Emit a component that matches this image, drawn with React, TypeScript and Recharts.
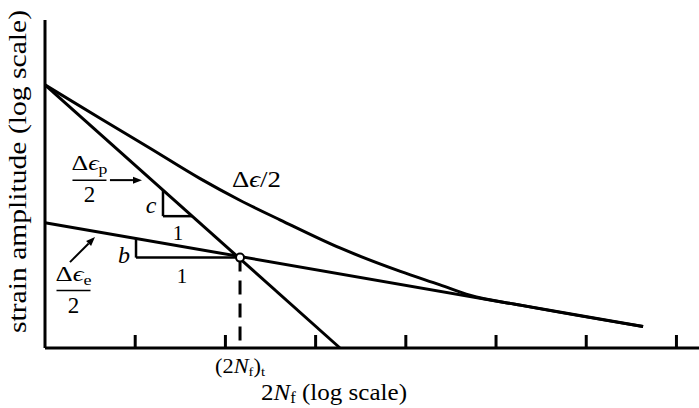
import React from 'react';
import { ComposedChart, Line, XAxis, YAxis, ReferenceLine, ReferenceDot } from 'recharts';

// x = log10(2Nf) (decades), y = log10(strain amplitude) (arbitrary decades)
const xTicks = [1, 2, 3, 4, 5, 6, 7];
const xDomain = [0, 7.25];
const yDomain = [0, 3.64];

const plasticX = [0, 3.27];
const plasticY = [2.92, 0];
const elasticX = [0, 6.63];
const elasticY = [1.391, 0.238];
const totalX = [0, 0.61, 1.16, 1.72, 2.16, 2.61, 3.27, 3.94, 4.38, 4.71, 5.27, 6.63];
const totalY = [2.92, 2.55, 2.22, 1.88, 1.64, 1.42, 1.11, 0.85, 0.7, 0.585, 0.476, 0.238];

const transitionPoint = [2.162, 1.003];
// slope triangles: [xLeft, xRight, yTop, yBottom]
const cTriangle = [1.308, 1.63, 1.749, 1.463];
const bTriangle = [1.009, 2.162, 1.216, 1.003];
// arrows: [x1, y1, x2, y2]
const arrowP = [0.72, 1.863, 1.075, 1.863];
const arrowE = [0.277, 0.953, 0.554, 1.231];
// label anchors [x, y]
const cLabelPos = [1.175, 1.497];
const cOnePos = [1.475, 1.197];
const bLabelPos = [0.876, 0.942];
const bOnePos = [1.519, 0.721];
const totalLabelPos = [2.072, 1.786];
const fracPPos = [0.493, 1.863];
const fracEPos = [0.316, 0.637];

const yLabel = 'strain amplitude (log scale)';
const xLabelTail = ' (log scale)';

const SERIF = '"Liberation Serif", "Times New Roman", "DejaVu Serif", serif';

const toPts = (xs: number[], ys: number[]) => xs.map((x, i) => ({ x, y: ys[i] }));
const plasticData = toPts(plasticX, plasticY);
const elasticData = toPts(elasticX, elasticY);
const totalData = toPts(totalX, totalY);

const TickMark = (p: any) => (
  <line x1={p.x} x2={p.x} y1={p.y} y2={p.y - 13} stroke="#000" strokeWidth={3} />
);

const ArrowShape = (p: any) => {
  const { x1, y1, x2, y2 } = p;
  const ang = Math.atan2(y2 - y1, x2 - x1);
  const L = 9;
  const W = 3.5;
  const bx = x2 - L * Math.cos(ang);
  const by = y2 - L * Math.sin(ang);
  const ox = -Math.sin(ang) * W;
  const oy = Math.cos(ang) * W;
  return (
    <g>
      <line x1={x1} y1={y1} x2={bx} y2={by} stroke="#000" strokeWidth={2} />
      <polygon points={`${x2},${y2} ${bx + ox},${by + oy} ${bx - ox},${by - oy}`} fill="#000" />
    </g>
  );
};

const Frac = ({ cx, cy, sub }: any) => (
  <g fontFamily={SERIF} fill="#000">
    <text x={cx} y={cy - 10} textAnchor="middle" fontSize={22} textLength={36}
      lengthAdjust="spacingAndGlyphs">
      <tspan>Δ</tspan>
      <tspan fontStyle="italic">ϵ</tspan>
      <tspan fontSize={15} dy={4}>{sub}</tspan>
    </text>
    <line x1={cx - 17} x2={cx + 17} y1={cy} y2={cy} stroke="#000" strokeWidth={1.5} />
    <text x={cx} y={cy + 22} textAnchor="middle" fontSize={23}>2</text>
  </g>
);

const SimpleText = (txt: string, size: number, italic: boolean) => (p: any) => (
  <text x={p.cx} y={p.cy} textAnchor="middle" fontSize={size} fontFamily={SERIF}
    fontStyle={italic ? 'italic' : 'normal'} fill="#000">{txt}</text>
);

const TotalLabel = (p: any) => (
  <text x={p.cx} y={p.cy} fontSize={23} fontFamily={SERIF} fill="#000" textLength={49}
    lengthAdjust="spacingAndGlyphs">
    <tspan>Δ</tspan>
    <tspan fontStyle="italic">ϵ</tspan>
    <tspan>/2</tspan>
  </text>
);

const YLabel = (p: any) => {
  const vb = p.viewBox || { x: 0, y: 20, width: 45, height: 328 };
  const cx = 26;
  const cy = vb.y + vb.height / 2 - 12.5;
  return (
    <text x={cx} y={cy} transform={`rotate(-90 ${cx} ${cy})`} textAnchor="middle" fontSize={26}
      fontFamily={SERIF} fill="#000" textLength={323} lengthAdjust="spacingAndGlyphs">
      {yLabel}
    </text>
  );
};

const XLabel = (p: any) => {
  const vb = p.viewBox || { x: 45, y: 348, width: 654, height: 60 };
  return (
    <text x={261} y={vb.y + 52} fontSize={24} fontFamily={SERIF} fill="#000" textLength={146}
      lengthAdjust="spacingAndGlyphs">
      <tspan>2</tspan>
      <tspan fontStyle="italic">N</tspan>
      <tspan fontSize={16} dy={3}>f</tspan>
      <tspan dy={-3}>{xLabelTail}</tspan>
    </text>
  );
};

const TransitionLabel = (p: any) => {
  const vb = p.viewBox || { x: 242, y: 257, width: 0, height: 91 };
  const x = vb.x;
  const y = vb.y + vb.height + 25;
  return (
    <text x={x} y={y} textAnchor="middle" fontSize={20} fontFamily={SERIF} fill="#000"
      textLength={50} lengthAdjust="spacingAndGlyphs">
      <tspan>(2</tspan>
      <tspan fontStyle="italic">N</tspan>
      <tspan fontSize={13} dy={3}>f</tspan>
      <tspan dy={-3}>)</tspan>
      <tspan fontSize={13} dy={3}>t</tspan>
    </text>
  );
};

export default function App() {
  return (
    <div style={{ position: 'absolute', left: 0, top: 0, width: 699, height: 408, background: '#fff' }}>
      <ComposedChart width={699} height={408} margin={{ top: 20, right: 0, bottom: 0, left: 0 }}>
        <XAxis type="number" dataKey="x" domain={xDomain} ticks={xTicks} height={60}
          axisLine={{ stroke: '#000', strokeWidth: 3 }} tickLine={false} tickSize={0} tickMargin={0}
          tick={<TickMark />} label={<XLabel />} />
        <YAxis type="number" domain={yDomain} width={45} axisLine={{ stroke: '#000', strokeWidth: 3 }}
          tick={false} tickLine={false} label={<YLabel />} />

        <Line data={totalData} dataKey="y" type="monotone" stroke="#000" strokeWidth={3} dot={false}
          isAnimationActive={false} />
        <Line data={plasticData} dataKey="y" type="linear" stroke="#000" strokeWidth={3} dot={false}
          isAnimationActive={false} />
        <Line data={elasticData} dataKey="y" type="linear" stroke="#000" strokeWidth={3} dot={false}
          isAnimationActive={false} />

        {/* slope triangle c */}
        <ReferenceLine segment={[{ x: cTriangle[0], y: cTriangle[2] }, { x: cTriangle[0], y: cTriangle[3] }]}
          stroke="#000" strokeWidth={2.5} />
        <ReferenceLine segment={[{ x: cTriangle[0], y: cTriangle[3] }, { x: cTriangle[1], y: cTriangle[3] }]}
          stroke="#000" strokeWidth={2.5} />
        {/* slope triangle b */}
        <ReferenceLine segment={[{ x: bTriangle[0], y: bTriangle[2] }, { x: bTriangle[0], y: bTriangle[3] }]}
          stroke="#000" strokeWidth={2.5} />
        <ReferenceLine segment={[{ x: bTriangle[0], y: bTriangle[3] }, { x: bTriangle[1], y: bTriangle[3] }]}
          stroke="#000" strokeWidth={2.5} />

        {/* dashed drop to transition life */}
        <ReferenceLine segment={[{ x: transitionPoint[0], y: transitionPoint[1] }, { x: transitionPoint[0], y: 0 }]}
          stroke="#000" strokeWidth={3} strokeDasharray="14 9" label={<TransitionLabel />} />

        {/* arrows */}
        <ReferenceLine segment={[{ x: arrowP[0], y: arrowP[1] }, { x: arrowP[2], y: arrowP[3] }]}
          shape={ArrowShape} />
        <ReferenceLine segment={[{ x: arrowE[0], y: arrowE[1] }, { x: arrowE[2], y: arrowE[3] }]}
          shape={ArrowShape} />

        <ReferenceDot x={transitionPoint[0]} y={transitionPoint[1]} r={4} fill="#fff" stroke="#000"
          strokeWidth={2} />

        <ReferenceDot x={cLabelPos[0]} y={cLabelPos[1]} shape={SimpleText('c', 24, true)} />
        <ReferenceDot x={cOnePos[0]} y={cOnePos[1]} shape={SimpleText('1', 21, false)} />
        <ReferenceDot x={bLabelPos[0]} y={bLabelPos[1]} shape={SimpleText('b', 24, true)} />
        <ReferenceDot x={bOnePos[0]} y={bOnePos[1]} shape={SimpleText('1', 21, false)} />
        <ReferenceDot x={totalLabelPos[0]} y={totalLabelPos[1]} shape={TotalLabel} />
        <ReferenceDot x={fracPPos[0]} y={fracPPos[1]} shape={(p: any) => <Frac cx={p.cx} cy={p.cy} sub="p" />} />
        <ReferenceDot x={fracEPos[0]} y={fracEPos[1]} shape={(p: any) => <Frac cx={p.cx} cy={p.cy} sub="e" />} />
      </ComposedChart>
    </div>
  );
}
